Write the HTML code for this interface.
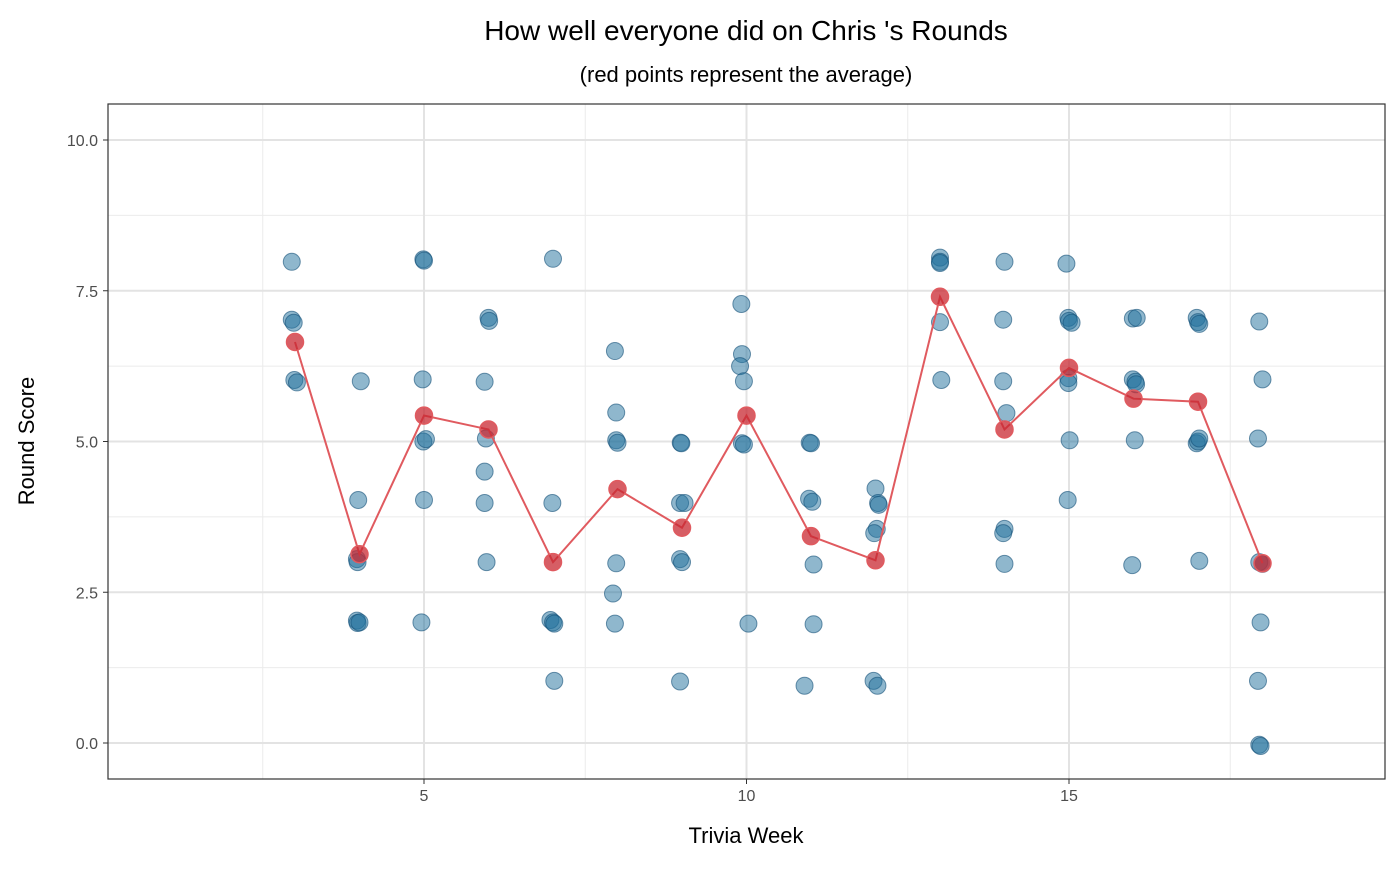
<!DOCTYPE html>
<html><head><meta charset="utf-8"><style>
body{margin:0;background:#fff;font-family:"Liberation Sans",Arial,sans-serif}
</style></head><body>
<svg id="chart" width="1400" height="865" xmlns="http://www.w3.org/2000/svg"></svg>
<script>
const weeks=[3,4,5,6,7,8,9,10,11,12,13,14,15,16,17,18];
const means=[6.65,3.13,5.43,5.2,3.0,4.21,3.57,5.43,3.43,3.03,7.4,5.2,6.22,5.71,5.66,2.98];
const pointWeeks=[2.95,2.95,2.98,2.99,3.03, 3.98,3.96,3.97,3.96,3.97,4.0,4.02, 4.99,5.0,4.98,4.99,5.03,5.0,4.96, 6.0,6.01,5.94,5.94,5.96,5.94,5.97, 7.0,6.99,6.96,7.0,7.02,7.02, 7.96,7.98,7.98,8.0,7.98,7.93,7.96, 8.98,8.99,8.97,9.04,8.97,9.0,8.97, 9.92,9.93,9.9,9.96,9.93,9.96,10.03, 10.98,11.0,10.97,11.02,11.04,11.04,10.9, 12.0,12.04,12.05,12.02,11.98,11.97,12.03, 13.0,13.0,13.0,13.0,13.02, 14.0,13.98,13.98,14.03,14.0,13.98,14.0, 14.96,14.99,15.0,15.04,14.99,14.99,15.01,14.98, 15.99,16.05,15.99,16.03,16.04,16.02,15.98, 16.98,17.0,17.02,16.98,17.0,17.02,17.02, 17.95,18.0,17.93,17.95,18.0,17.97,17.93,17.95,17.97];
const pointScores=[7.98,7.02,6.97,6.02,5.98, 4.03,3.05,3.0,2.03,1.99,2.0,6.0, 8.02,8.0,6.03,5.0,5.04,4.03,2.0, 7.05,7.0,5.99,4.5,5.05,3.98,3.0, 8.03,3.98,2.04,2.0,1.98,1.03, 6.5,5.48,5.02,4.98,2.98,2.48,1.98, 4.98,4.97,3.98,3.98,3.05,3.0,1.02, 7.28,6.45,6.25,6.0,4.97,4.95,1.98, 4.98,4.97,4.05,4.0,2.96,1.97,0.95, 4.22,3.98,3.95,3.55,3.48,1.03,0.95, 8.05,7.98,7.96,6.98,6.02, 7.98,7.02,6.0,5.47,3.55,3.48,2.97, 7.95,7.05,7.0,6.97,6.05,5.97,5.02,4.03, 7.04,7.05,6.03,5.99,5.95,5.02,2.95, 7.05,6.98,6.95,4.97,5.0,5.05,3.02, 6.99,6.03,5.05,3.0,2.97,2.0,1.03,-0.03,-0.05];
const xTicks=[5,10,15];
const yTicks=[0,2.5,5,7.5,10];
const L=108,R=1385,T=104,B=779;
const x=v=>101.5+v*64.5;
const y=v=>743-v*60.3;
const svg=document.getElementById('chart');
const NS='http://www.w3.org/2000/svg';
function mk(tag,attrs,parent){const e=document.createElementNS(NS,tag);for(const k in attrs)e.setAttribute(k,attrs[k]);(parent||svg).appendChild(e);return e;}
// minor grid
for(let v=2.5;v<20;v+=5){const l=mk('line',{x1:x(v),x2:x(v),y1:T,y2:B,stroke:'#ebebeb','stroke-width':1});

}
for(let v=1.25;v<10.5;v+=2.5){const l=mk('line',{x1:L,x2:R,y1:y(v),y2:y(v),stroke:'#ebebeb','stroke-width':1});

}
xTicks.forEach(v=>{const l=mk('line',{x1:x(v),x2:x(v),y1:T,y2:B,stroke:'#e3e3e3','stroke-width':2});


const t=mk('text',{x:x(v),y:B+22,'text-anchor':'middle','font-size':16,fill:'#4d4d4d'});t.textContent=v;


mk('line',{x1:x(v),x2:x(v),y1:B,y2:B+5,stroke:'#333'});});
yTicks.forEach(v=>{const l=mk('line',{x1:L,x2:R,y1:y(v),y2:y(v),stroke:'#e3e3e3','stroke-width':2});


const t=mk('text',{x:L-10,y:y(v)+6,'text-anchor':'end','font-size':16,fill:'#4d4d4d'});t.textContent=v.toFixed(1);


mk('line',{x1:L-5,x2:L,y1:y(v),y2:y(v),stroke:'#333'});});
pointWeeks.forEach((w,i)=>{const c=mk('circle',{cx:x(w),cy:y(pointScores[i]),r:8.5,fill:'rgba(31,111,155,0.5)',stroke:'rgba(20,80,120,0.6)','stroke-width':1});

});
const p=mk('polyline',{points:weeks.map((w,i)=>x(w)+','+y(means[i])).join(' '),fill:'none',stroke:'#e05a5f','stroke-width':2});


weeks.forEach((w,i)=>{const c=mk('circle',{cx:x(w),cy:y(means[i]),r:8.5,fill:'rgba(200,40,50,0.75)',stroke:'#e05a5f','stroke-width':1.5});

});
const f=mk('rect',{x:L,y:T,width:R-L,height:B-T,fill:'none',stroke:'#333','stroke-width':1.2});


const t1=mk('text',{x:746,y:40,'text-anchor':'middle','font-size':28,fill:'#000'});t1.textContent="How well everyone did on Chris 's Rounds";


const t2=mk('text',{x:746,y:82,'text-anchor':'middle','font-size':22,fill:'#000'});t2.textContent="(red points represent the average)";


const xt=mk('text',{x:746,y:843,'text-anchor':'middle','font-size':22,fill:'#000'});xt.textContent="Trivia Week";


const yt=mk('text',{x:0,y:0,'text-anchor':'middle','font-size':22,fill:'#000',transform:'translate(34,441) rotate(-90)'});yt.textContent="Round Score";


</script>
</body></html>
